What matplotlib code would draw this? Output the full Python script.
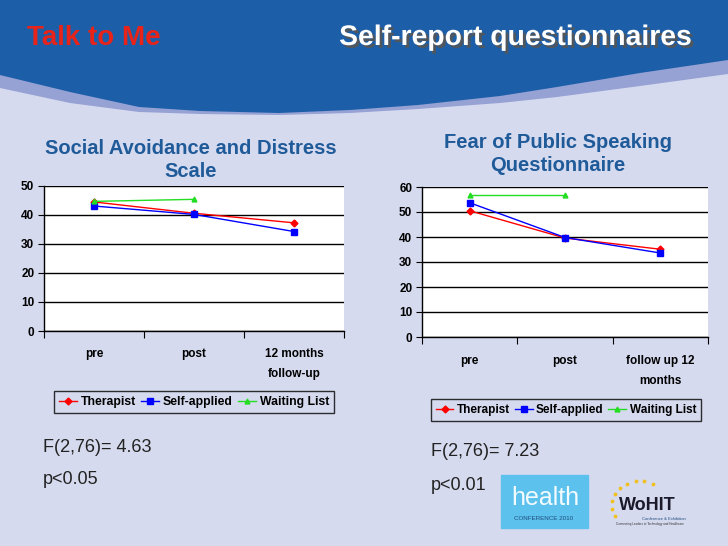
import matplotlib.pyplot as plt
import matplotlib.patheffects as pe
import numpy as np

# --- data ---
left_cats = ['pre', 'post', '12 months\nfollow-up']
left_therapist = [44.5, 40.6, 37.3]
left_self = [43.1, 40.2, 34.3]
left_waiting = [44.7, 45.4]

right_cats = ['pre', 'post', 'follow up 12\nmonths']
right_therapist = [50.5, 39.6, 35.1]
right_self = [53.7, 39.8, 33.6]
right_waiting = [56.8, 56.8]

series_names = ['Therapist', 'Self-applied', 'Waiting List']

# header wave (pixel coords of the slide background)
wave_x = [0, 70, 139, 200, 279, 350, 418, 500, 557, 640, 728]
wave_blue = [75, 92, 107, 111, 113, 110, 105, 96, 87, 73, 60]
wave_light = [88, 103, 112, 114, 115, 113, 109, 103, 97, 86, 74]

W, H = 728, 546
BG = '#d6daee'
HEADER = '#1c5fa8'
TITLE_BLUE = '#1f5a99'
FONT = ['Liberation Sans', 'DejaVu Sans']

plt.rcParams['font.family'] = FONT


def px_ax(fig):
    # whole-figure axes in pixel units, y pointing down
    ax = fig.add_axes([0, 0, 1, 1])
    ax.set_xlim(0, W)
    ax.set_ylim(H, 0)
    ax.axis('off')
    return ax


def draw_background(ax):
    ax.add_patch(plt.Rectangle((0, 0), W, H, color=BG, zorder=0))
    ax.fill_between(wave_x, 0, wave_light, color='#96a1d4', zorder=1, lw=0)
    ax.fill_between(wave_x, 0, wave_blue, color=HEADER, zorder=2, lw=0)
    ax.text(27, 38, 'Talk to Me', color='#e8231a', fontsize=20, fontweight='bold',
            va='center', ha='left', zorder=3)
    ax.text(516, 38, 'Self-report questionnaires', color='white', fontsize=20.4,
            fontweight='bold', va='center', ha='center', zorder=3,
            path_effects=[pe.withSimplePatchShadow(offset=(2, -2),
                                                   shadow_rgbFace='#555555', alpha=0.9)])


def chart(fig, rect, cats, ther, selfa, wait, ymax, title, title_xy, leg_xy, leg_fs, pad):
    ax = fig.add_axes(rect)
    ax.set_facecolor('white')
    x = np.arange(len(cats))
    ax.plot(x, ther, color='#ff0000', marker='D', ms=3.5, lw=1, label=series_names[0], zorder=3)
    ax.plot(x, selfa, color='#0000ff', marker='s', ms=5, lw=1, label=series_names[1], zorder=3)
    ax.plot(x[:len(wait)], wait, color='#22dd22', marker='^', ms=3.5, lw=1,
            label=series_names[2], zorder=3)
    ax.set_xlim(-0.5, len(cats) - 0.5)
    ax.set_ylim(0, ymax)
    ax.set_yticks(np.arange(0, ymax + 1, 10))
    ax.yaxis.grid(True, color='black', lw=1)
    ax.set_axisbelow(True)
    ax.set_xticks(np.arange(len(cats) + 1) - 0.5)
    ax.set_xticklabels([])
    ax.set_xticks(x, minor=True)
    ax.set_xticklabels(cats, minor=True, fontweight='bold', fontsize=8.5, linespacing=1.9)
    ax.tick_params(axis='x', which='major', length=5, direction='out')
    ax.tick_params(axis='x', which='minor', length=0, pad=pad)
    ax.tick_params(axis='y', length=4, labelsize=8.5, pad=3)
    for lab in ax.get_yticklabels():
        lab.set_fontweight('bold')
    for s in ['top', 'right']:
        ax.spines[s].set_visible(False)
    ax.spines['left'].set_linewidth(1)
    ax.spines['bottom'].set_linewidth(1)
    leg = fig.legend(loc='center', bbox_to_anchor=leg_xy, ncol=3, frameon=True,
                     fancybox=False, edgecolor='black', facecolor='none',
                     prop={'weight': 'bold', 'size': leg_fs}, handlelength=1.5,
                     handletextpad=0.3, columnspacing=0.4, borderpad=0.4,
                     handles=ax.get_lines())
    leg.get_frame().set_linewidth(1)
    fig.text(title_xy[0], title_xy[1], title, color=TITLE_BLUE, fontsize=14.5,
             fontweight='bold', ha='center', va='center', linespacing=1.25)
    return ax


fig = plt.figure(figsize=(W / 100, H / 100), dpi=100)
bg = px_ax(fig)
draw_background(bg)

chart(fig, [44 / W, 1 - 331 / H, 300 / W, 145 / H], left_cats,
      left_therapist, left_self, left_waiting, 50,
      'Social Avoidance and Distress\nScale', (191 / W, 1 - 160 / H),
      (194 / W, 1 - 402 / H), 8.8, 12)
chart(fig, [422 / W, 1 - 337 / H, 286 / W, 150 / H], right_cats,
      right_therapist, right_self, right_waiting, 60,
      'Fear of Public Speaking\nQuestionnaire', (558 / W, 1 - 154 / H),
      (566 / W, 1 - 410 / H), 8.5, 13)

# statistics
stat_kw = dict(fontsize=13, color='#222222', va='center', ha='left')
bg.text(43, 447, 'F(2,76)= 4.63', **stat_kw)
bg.text(43, 480, 'p<0.05', **stat_kw)
bg.text(431, 452, 'F(2,76)= 7.23', **stat_kw)
bg.text(431, 486, 'p<0.01', **stat_kw)

# conference logos (approximate)
bg.add_patch(plt.Rectangle((501, 475), 87, 53, color='#5cc1ec', zorder=2))
bg.text(545, 498, 'health', color='#f2fbff', fontsize=18, ha='center', va='center',
        fontweight='light', zorder=3)
bg.text(544, 519, 'CONFERENCE 2010', color='#1f4f80', fontsize=4.5, ha='center',
        va='center', zorder=3)
ang = np.linspace(np.pi * 0.35, np.pi * 1.15, 9)
bg.scatter(640 + 28 * np.cos(ang), 505 - 24 * np.sin(ang), s=3, color='#f0c020', zorder=3)
bg.text(647, 505, 'WoHIT', color='#1a1a2a', fontsize=13, fontweight='bold',
        ha='center', va='center', zorder=3)
bg.text(664, 519, 'Conference & Exhibition', color='#1f4f80', fontsize=3, ha='center',
        va='center', zorder=3)
bg.text(650, 524, 'Connecting Leaders in Technology and Healthcare', color='#333333',
        fontsize=2.2, ha='center', va='center', zorder=3)

fig.savefig('out.png', dpi=100, facecolor=BG)
